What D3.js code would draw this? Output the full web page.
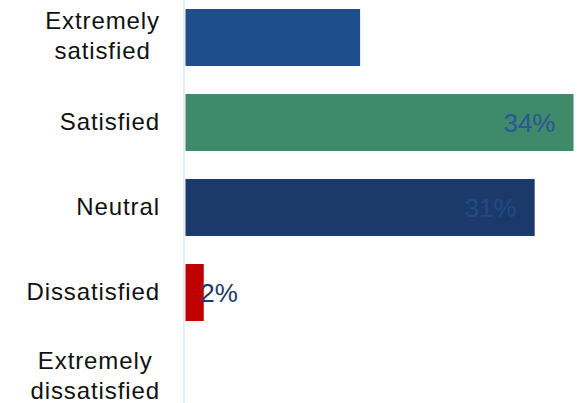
<!DOCTYPE html>
<html>
<head>
<meta charset="utf-8">
<script src="https://cdn.jsdelivr.net/npm/d3@7"></script>
<style>
  html, body { margin: 0; padding: 0; background: #ffffff; }
  svg { display: block; }
</style>
</head>
<body>
<svg id="chart" width="579" height="403"></svg>
<script>
// ---- data ----
const categories = ["Extremely satisfied", "Satisfied", "Neutral", "Dissatisfied", "Extremely dissatisfied"];
const categoryLines = [["Extremely", "satisfied"], ["Satisfied"], ["Neutral"], ["Dissatisfied"], ["Extremely", "dissatisfied"]];
const values = [15.3, 34, 30.6, 1.6, 0];
const valueLabels = ["15%", "34%", "31%", "2%", ""];
const barColors = ["#1F4E8C", "#3E8A6B", "#1B3A6B", "#C00000", "#1F4E8C"];
const labelColors = ["#1F4E8C", "#2C559B", "#204A86", "#1F3864", "#1F3864"];

// ---- layout ----
const W = 579, H = 403;
const svg = d3.select("#chart");
const font = "'Liberation Sans', Arial, sans-serif";

const x = d3.scaleLinear().domain([0, 34]).range([185.5, 573.5]);
const y = d3.scaleBand().domain(categories).range([-5, 420]).paddingInner(0.33).paddingOuter(0.165);

// axis line
svg.append("line")
  .attr("x1", x(0) - 1.5).attr("x2", x(0) - 1.5)
  .attr("y1", 0).attr("y2", H)
  .attr("stroke", "#E6EEF8").attr("stroke-width", 2);

// bars
svg.selectAll("rect.bar").data(categories).enter().append("rect")
  .attr("class", "bar")
  .attr("x", x(0))
  .attr("y", d => y(d))
  .attr("width", (d, i) => x(values[i]) - x(0))
  .attr("height", y.bandwidth())
  .attr("fill", (d, i) => barColors[i]);

// value labels
svg.selectAll("text.val").data(categories).enter().append("text")
  .attr("class", "val")
  .attr("font-family", font)
  .attr("font-size", 26)
  .attr("fill", (d, i) => labelColors[i])
  .attr("text-anchor", (d, i) => values[i] < 5 ? "start" : "end")
  .attr("x", (d, i) => values[i] < 5 ? x(values[i]) - 3.5 : x(values[i]) - 18)
  .attr("y", d => y(d) + y.bandwidth() / 2 + 9.3)
  .text((d, i) => valueLabels[i]);

// category labels
const labelRight = 160;
categories.forEach((c, i) => {
  const lines = categoryLines[i];
  const g = svg.append("g");
  const cy = y(c) + y.bandwidth() / 2;
  const texts = lines.map((ln, j) => g.append("text")
    .attr("font-family", font)
    .attr("font-size", 24)
    .attr("letter-spacing", "0.9px")
    .attr("fill", "#111111")
    .attr("text-anchor", "middle")
    .attr("y", cy + (lines.length > 1 ? 6 : 7) + (j - (lines.length - 1) / 2) * 30)
    .text(ln));
  const maxW = d3.max(texts, t => t.node().getComputedTextLength());
  texts.forEach(t => t.attr("x", labelRight - maxW / 2));
});
</script>
</body>
</html>
